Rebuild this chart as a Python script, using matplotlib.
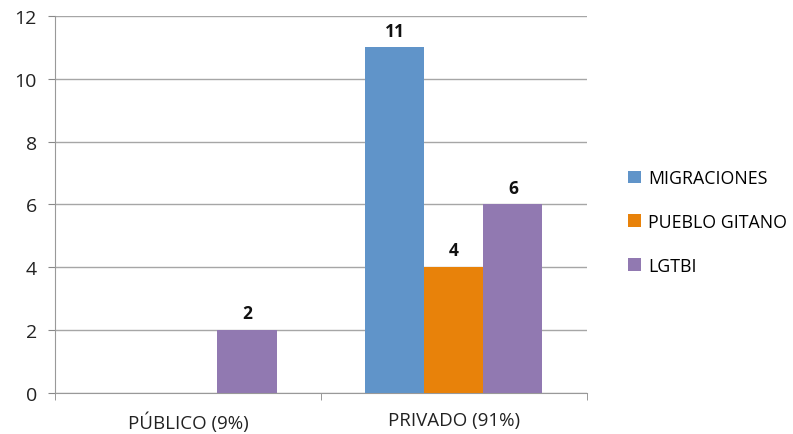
import matplotlib
matplotlib.use("Agg")
import matplotlib.pyplot as plt
import numpy as np

categories = ["PÚBLICO (9%)", "PRIVADO (91%)"]
series_names = ["MIGRACIONES", "PUEBLO GITANO", "LGTBI"]
migraciones = [0, 11]
pueblo_gitano = [0, 4]
lgtbi = [2, 6]
colors = ["#6094C9", "#E8820A", "#9179B1"]

plt.rcParams["font.family"] = ["Open Sans", "DejaVu Sans"]

fig = plt.figure(figsize=(7.93, 4.35), dpi=100)
ax = fig.add_axes([0.0694, 0.0943, 0.6706, 0.8667])

x = np.arange(len(categories))
w = 0.222
handles = []
for i, (vals, name, c) in enumerate(zip([migraciones, pueblo_gitano, lgtbi], series_names, colors)):
    bars = ax.bar(x + (i - 1) * w, vals, width=w, color=c, label=name, zorder=3)
    handles.append(bars)
    for b, v in zip(bars, vals):
        if v:
            ax.text(b.get_x() + b.get_width() / 2, v + 0.25, f"{v}", ha="center", va="bottom",
                    fontsize=12.5, fontweight="bold", color="#111111")

ax.set_xlim(-0.5, 1.5)
ax.set_ylim(0, 12)
ax.set_yticks(range(0, 13, 2))
ax.set_xticks(x)
ax.set_xticklabels(categories)
ax.set_xticks([-0.5, 0.5, 1.5], minor=True)
ax.tick_params(axis="x", which="major", length=0, pad=13, labelsize=13.5, labelcolor="#222222")
ax.tick_params(axis="x", which="minor", length=5, color="#888888")
ax.tick_params(axis="y", length=5, color="#888888", labelsize=14, labelcolor="#222222", pad=8)
ax.grid(axis="y", color="#A6A6A6", lw=1, zorder=0)
for s in ["top", "right"]:
    ax.spines[s].set_visible(False)
for s in ["left", "bottom"]:
    ax.spines[s].set_color("#999999")

fig.legend(handles=handles, labels=series_names, loc="upper left", bbox_to_anchor=(0.772, 0.646),
           frameon=False, fontsize=12.8, handlelength=0.7, handleheight=0.7,
           handletextpad=0.4, labelspacing=1.45)

fig.savefig("out.png", dpi=100)
